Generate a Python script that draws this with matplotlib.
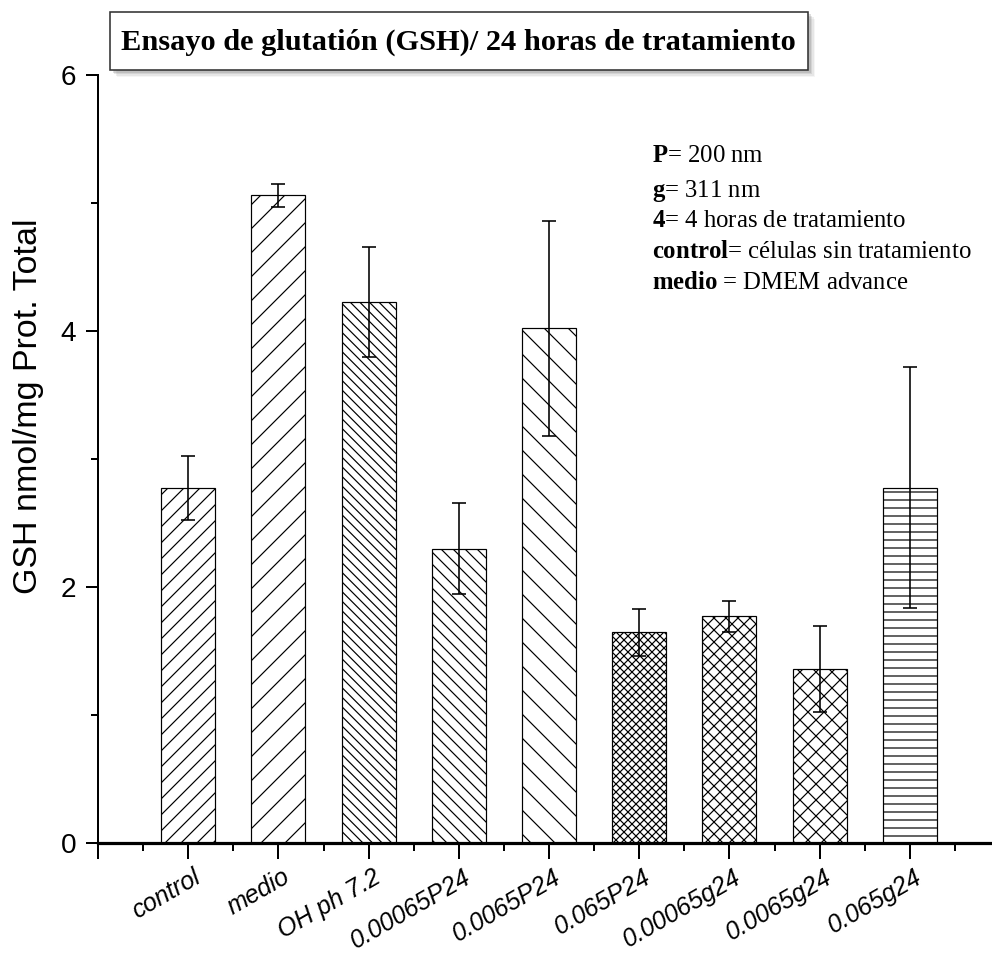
import matplotlib
matplotlib.use('Agg')
import matplotlib.pyplot as plt
from matplotlib.patches import Rectangle
from matplotlib.ticker import FixedLocator, MultipleLocator
from matplotlib.transforms import ScaledTranslation

# datos
categorias = ['control', 'medio', 'OH ph 7.2', '0.00065P24', '0.0065P24',
              '0.065P24', '0.00065g24', '0.0065g24', '0.065g24']
gsh = [2.77, 5.06, 4.23, 2.30, 4.02, 1.645, 1.77, 1.357, 2.776]
error = [0.25, 0.09, 0.43, 0.355, 0.84, 0.185, 0.12, 0.335, 0.94]
# densidad de trama: cada caracter diagonal suma lineas
tramas = ['///', '//', '\\' * 5, '\\' * 4, '\\' * 2, 'xxxxxx', 'xxxx', 'xxx', '---']

titulo = 'Ensayo de glutatión (GSH)/ 24 horas de tratamiento'
leyenda = [r'$\mathbf{P}$= 200 nm',
           r'$\mathbf{g}$= 311 nm',
           r'$\mathbf{4}$= 4 horas de tratamiento',
           r'$\mathbf{control}$= células sin tratamiento',
           r'$\mathbf{medio}$ = DMEM advance']

plt.rcParams['font.family'] = ['Liberation Sans', 'DejaVu Sans']
plt.rcParams['mathtext.fontset'] = 'custom'
plt.rcParams['mathtext.rm'] = 'Liberation Serif'
plt.rcParams['mathtext.bf'] = 'Liberation Serif:bold'
plt.rcParams['hatch.linewidth'] = 0.6

W, H = 992, 959
DPI = 144
fig = plt.figure(figsize=(W / DPI, H / DPI), dpi=DPI)


def fx(px):
    return px / W


def fy(py):
    return 1 - py / H


# ejes: x=0 en px 98, y=0 en px 843, y=6 en px 75
ax = fig.add_axes([fx(98), fy(843), 902 / W, 768 / H])
x = list(range(1, len(categorias) + 1))
bars = ax.bar(x, gsh, width=0.6, color='white', edgecolor='black', linewidth=0.6)
for b, h in zip(bars, tramas):
    b.set_hatch(h)
ax.errorbar(x, gsh, yerr=error, fmt='none', ecolor='black', elinewidth=0.8,
            capsize=3.4, capthick=0.8)

ax.set_xlim(0, 10)
ax.set_ylim(0, 6)
ax.spines['top'].set_visible(False)
ax.spines['right'].set_visible(False)
ax.spines['left'].set_linewidth(1.0)
ax.spines['left'].set_bounds(0, 6)
ax.spines['bottom'].set_linewidth(1.6)

ax.xaxis.set_major_locator(FixedLocator(range(0, 10)))
ax.set_xticklabels([''] + categorias, rotation=30, ha='right', va='top',
                   rotation_mode='anchor', fontsize=12.5, style='italic')
ax.xaxis.set_minor_locator(FixedLocator([i + 0.5 for i in range(0, 10)]))
ax.tick_params(axis='x', which='major', length=8, width=1.0, pad=3)
ax.tick_params(axis='x', which='minor', length=4, width=1.0)
# etiquetas apenas corridas a la derecha
desplaza = ScaledTranslation(2 / 72, 0, fig.dpi_scale_trans)
for lbl in ax.get_xticklabels():
    lbl.set_transform(lbl.get_transform() + desplaza)

ax.yaxis.set_major_locator(MultipleLocator(2))
ax.yaxis.set_minor_locator(MultipleLocator(1))
ax.tick_params(axis='y', which='major', length=6, width=1.0, labelsize=14, pad=5)
ax.tick_params(axis='y', which='minor', length=3.5, width=1.0)

fig.text(fx(29), fy(406), 'GSH nmol/mg Prot. Total', rotation=90,
         ha='center', va='center', fontsize=17)

# caja del titulo con sombra
for k, a in enumerate([0.08, 0.12, 0.18, 0.25]):
    off = 7 - k * 1.5
    fig.patches.append(Rectangle((fx(110 + off), fy(70 + off)), 698 / W, 58 / H,
                                 transform=fig.transFigure, facecolor='gray',
                                 edgecolor='none', alpha=a, zorder=1))
fig.patches.append(Rectangle((fx(110), fy(70)), 698 / W, 58 / H,
                             transform=fig.transFigure, facecolor='white',
                             edgecolor='#333333', linewidth=0.8, zorder=2))
fig.text(fx(121), fy(42), titulo, ha='left', va='center', fontsize=15.2,
         family='Liberation Serif', weight='bold', zorder=3)

y_ley = [156, 191, 221, 252, 283]
for t, yy in zip(leyenda, y_ley):
    fig.text(fx(652), fy(yy), t, ha='left', va='center', fontsize=12.4,
             family='Liberation Serif')

fig.savefig('out.png', dpi=DPI)
